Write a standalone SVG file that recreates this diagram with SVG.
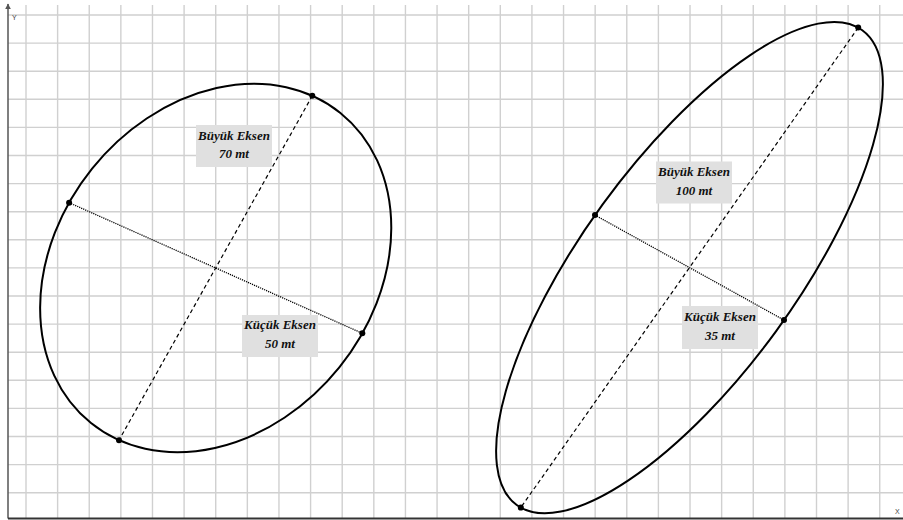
<svg xmlns="http://www.w3.org/2000/svg" width="903" height="520" viewBox="0 0 903 520">
  <style>
    .grid{stroke:#d0d0d0;stroke-width:1.4;fill:none}
    .ell{fill:none;stroke:#000;stroke-width:2}
    .major{stroke:#000;stroke-width:1.2;stroke-dasharray:4 3;fill:none}
    .minor{stroke:#000;stroke-width:1.3;stroke-dasharray:1.2 1;fill:none}
    .pt{fill:#000}
    .box{fill:#e0e0e0}
    .lbl{font-family:"Liberation Serif","Times New Roman",serif;font-size:13px;font-weight:bold;font-style:italic;fill:#111;text-anchor:middle}
    .ax{font-family:"Liberation Sans",Arial,sans-serif;font-size:7px;fill:#444}
  </style>
  <defs>
    <marker id="arr" viewBox="0 0 10 10" refX="9" refY="5" markerWidth="4" markerHeight="4" orient="auto">
      <path d="M0 0L10 5L0 10z" fill="#555"/>
    </marker>
  </defs>
  <rect width="903" height="520" fill="#fff"/>
  <g id="grid">
    <path class="grid" d="M26 5V518M57.62 5V518M89.24 5V518M120.86 5V518M152.48 5V518M184.1 5V518M215.72 5V518M247.34 5V518M278.96 5V518M310.58 5V518M342.2 5V518M373.82 5V518M405.44 5V518M437.06 5V518M468.68 5V518M500.3 5V518M531.92 5V518M563.54 5V518M595.16 5V518M626.78 5V518M658.4 5V518M690.02 5V518M721.64 5V518M753.26 5V518M784.88 5V518M816.5 5V518M848.12 5V518M879.74 5V518"/>
    <path class="grid" d="M8 15H903M8 43.1H903M8 71.2H903M8 99.3H903M8 127.4H903M8 155.5H903M8 183.6H903M8 211.7H903M8 239.8H903M8 267.9H903M8 296H903M8 324.1H903M8 352.2H903M8 380.3H903M8 408.4H903M8 436.5H903M8 464.6H903M8 492.7H903"/>
  </g>
  <g id="axes">
    <line x1="8" y1="518.5" x2="8" y2="4" stroke="#555" stroke-width="1.5" marker-end="url(#arr)"/>
    <line x1="8" y1="518.5" x2="903" y2="518.5" stroke="#333" stroke-width="2"/>
    <text class="ax" x="12" y="19.5">Y</text>
    <text class="ax" x="895" y="513.5">X</text>
  </g>
  <g id="ellipse-left">
    <ellipse class="ell" cx="215.7" cy="268" rx="199" ry="158.6" transform="rotate(-51.2 215.7 268)"/>
  </g>
  <g id="ellipse-right">
    <ellipse class="ell" cx="689.5" cy="267.6" rx="293.6" ry="107.4" transform="rotate(-53.95 689.5 267.6)"/>
  </g>
  <g id="connectors">
    <line class="major" x1="312.3" y1="95.8" x2="119" y2="440.2"/>
    <line class="minor" x1="69.1" y1="202.7" x2="362.3" y2="333.3"/>
    <line class="major" x1="858.2" y1="27.6" x2="520.8" y2="507.6"/>
    <line class="minor" x1="595" y1="215.1" x2="784" y2="320.1"/>
  </g>
  <g id="points">
    <circle class="pt" cx="312.3" cy="95.8" r="3"/>
    <circle class="pt" cx="119" cy="440.2" r="3"/>
    <circle class="pt" cx="69.1" cy="202.7" r="3"/>
    <circle class="pt" cx="362.3" cy="333.3" r="3"/>
    <circle class="pt" cx="858.2" cy="27.6" r="3"/>
    <circle class="pt" cx="520.8" cy="507.6" r="3"/>
    <circle class="pt" cx="595" cy="215.1" r="3"/>
    <circle class="pt" cx="784" cy="320.1" r="3"/>
  </g>
  <g id="label-left-major">
    <rect class="box" x="196" y="125" width="76" height="42"/>
    <text class="lbl" x="234" y="139.5">Büyük Eksen</text>
    <text class="lbl" x="234" y="158">70 mt</text>
  </g>
  <g id="label-left-minor">
    <rect class="box" x="242" y="315" width="76" height="42"/>
    <text class="lbl" x="280" y="329">Küçük Eksen</text>
    <text class="lbl" x="280" y="348">50 mt</text>
  </g>
  <g id="label-right-major">
    <rect class="box" x="656" y="161.5" width="76" height="42"/>
    <text class="lbl" x="694" y="175.5">Büyük Eksen</text>
    <text class="lbl" x="694" y="195">100 mt</text>
  </g>
  <g id="label-right-minor">
    <rect class="box" x="682" y="306" width="76" height="43"/>
    <text class="lbl" x="720" y="320.5">Küçük Eksen</text>
    <text class="lbl" x="720" y="340">35 mt</text>
  </g>
</svg>
